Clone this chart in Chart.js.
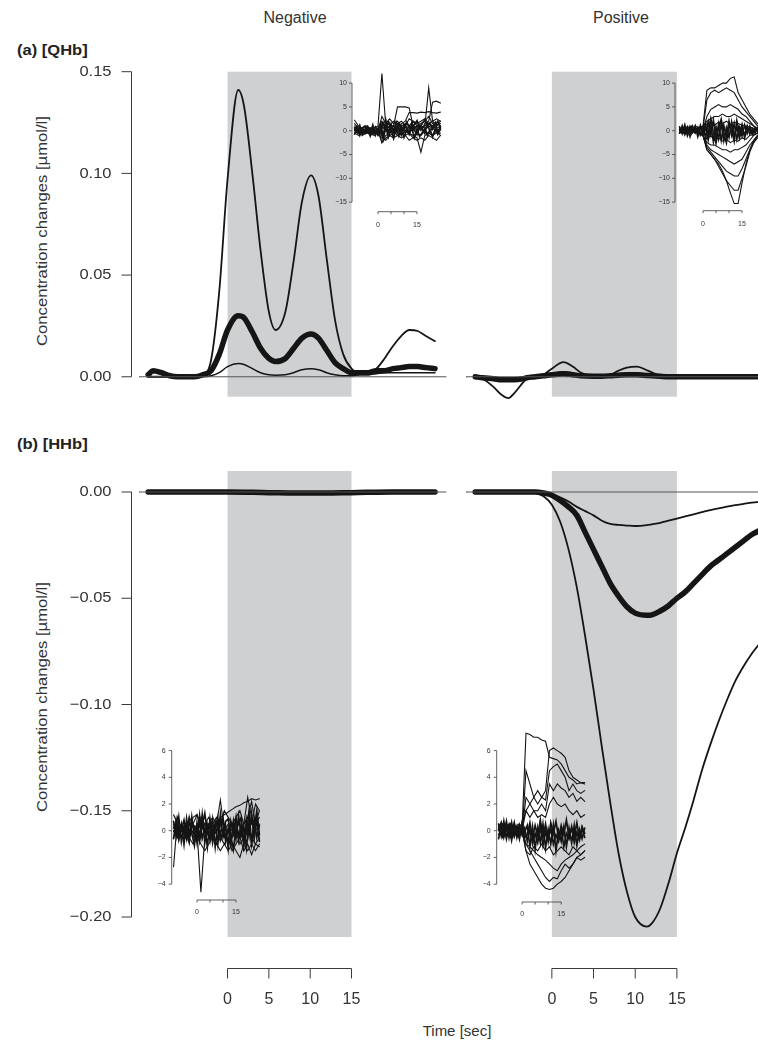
<!DOCTYPE html>
<html><head><meta charset="utf-8">
<script src="https://cdn.jsdelivr.net/npm/chart.js@4.4.0/dist/chart.umd.min.js"></script>
<style>
html,body{margin:0;padding:0;background:#fff;}
body{width:758px;height:1052px;overflow:hidden;position:relative;font-family:"Liberation Sans",Arial,Helvetica,sans-serif;color:#333;}
canvas{position:absolute;left:0;top:0;}
.t{position:absolute;white-space:nowrap;line-height:1;}
.c{transform:translate(-50%,-50%);}
.l{transform-origin:0 50%;transform:translate(0,-50%) scaleX(1.18);font-weight:bold;font-size:14px;color:#222;}
.r{transform:translate(-50%,-50%) rotate(-90deg) scaleX(1.11);font-size:15px;}
</style></head>
<body>
<div class="t c" style="left:295px;top:18px;font-size:16px;">Negative</div>
<div class="t c" style="left:621px;top:18px;font-size:16px;">Positive</div>
<div class="t l" style="left:17px;top:50px;">(a) [QHb]</div>
<div class="t l" style="left:17px;top:444px;">(b) [HHb]</div>
<div class="t r" style="left:41px;top:231px;">Concentration changes [µmol/l]</div>
<div class="t r" style="left:41px;top:697px;">Concentration changes [µmol/l]</div>
<div class="t c" style="left:457px;top:1030px;font-size:15px;">Time [sec]</div>

<canvas id="aL" width="758" height="1052"></canvas>
<canvas id="aR" width="758" height="1052"></canvas>
<canvas id="bL" width="758" height="1052"></canvas>
<canvas id="bR" width="758" height="1052"></canvas>
<canvas id="iaL" width="758" height="1052"></canvas>
<canvas id="iaR" width="758" height="1052"></canvas>
<canvas id="ibL" width="758" height="1052"></canvas>
<canvas id="ibR" width="758" height="1052"></canvas>

<script>
// ---------------- DATA ----------------
const stimulus = [0, 15];                       // shaded stimulation period [sec]
const timeTicks = [0, 5, 10, 15];
const timeTickLabels = ['0', '5', '10', '15'];
const insetTimeTickLabels = ['0', '', '', '15'];
const qhbTicks = [0, 0.05, 0.10, 0.15];
const qhbTickLabels = ['0.00', '0.05', '0.10', '0.15'];
const hhbTicks = [0, -0.05, -0.10, -0.15, -0.20];
const hhbTickLabels = ['0.00', '\u22120.05', '\u22120.10', '\u22120.15', '\u22120.20'];
const insetTopTicks = [-15, -10, -5, 0, 5, 10];
const insetTopTickLabels = ['\u221215', '\u221210', '\u22125', '0', '5', '10'];
const insetBotTicks = [-4, -2, 0, 2, 4, 6];
const insetBotTickLabels = ['\u22124', '\u22122', '0', '2', '4', '6'];

// (a) QHb, Negative
const tNegA = [-9.6,-9,-8,-7,-6,-5,-4,-3,-2,-1,0,1.3,2,3,4,5,5.8,7,8,9,10.1,11,12,13,14,15,16,17,18,19,20,21,22,23,24,25.1];
const qhbNegHi  = [0,0,0,0,0,0,0,0.001,0.008,0.042,0.097,0.141,0.133,0.100,0.062,0.032,0.023,0.032,0.057,0.086,0.099,0.089,0.058,0.028,0.011,0.004,0.002,0.002,0.004,0.009,0.015,0.020,0.023,0.0225,0.020,0.0175];
const qhbNegMid = [0.001,0.003,0.002,0.0005,0,0,0,0.001,0.003,0.011,0.023,0.030,0.029,0.022,0.014,0.009,0.0075,0.009,0.014,0.019,0.021,0.019,0.013,0.007,0.004,0.002,0.002,0.002,0.003,0.003,0.004,0.0045,0.005,0.005,0.0045,0.004];
const qhbNegLo  = [0,0,0,0,0,0,0,0,0.0005,0.002,0.005,0.0065,0.006,0.004,0.002,0.001,0.0008,0.001,0.002,0.0035,0.004,0.0035,0.002,0.001,0.0005,0.0005,0.001,0.001,0.0015,0.002,0.002,0.002,0.002,0.002,0.002,0.002];

// (a) QHb, Positive
const tPosA = [-9.2,-8.3,-7,-6,-5.2,-4.5,-3.5,-3,-2,-1,0,1.4,2.5,3.5,5,6,7,8,9,10.2,11.5,13,14,15,17,19,21,23,25];
const qhbPosHi  = [0,-0.001,-0.005,-0.009,-0.0105,-0.008,-0.003,-0.001,0,0.001,0.004,0.0072,0.005,0.002,0.0005,0.0005,0.001,0.003,0.0045,0.005,0.003,0.0005,0,0,0,0,0,0,0];
const qhbPosMid = [0,-0.0005,-0.001,-0.0015,-0.0015,-0.0015,-0.001,-0.0005,0,0.0005,0.001,0.0015,0.001,0.0005,0.0003,0.0003,0.0005,0.0008,0.001,0.001,0.0006,0.0002,0,0,0,0,0,0,0];
const qhbPosLo  = [0,0,-0.001,-0.002,-0.002,-0.0015,-0.0005,0,0,0.0005,0.0015,0.0025,0.0018,0.0008,0.0002,0.0002,0.0005,0.001,0.0015,0.0018,0.001,0.0002,0,0,0,0,0,0,0];

// (b) HHb, Negative
const tNegB = [-9.6,-5,0,5,10,15,20,25.1];
const hhbNegMid = [0,0,0,-0.0003,-0.0005,-0.0003,0,0];
const hhbNegLo  = [0,0,0,0,0,0,0,0];

// (b) HHb, Positive
const tPosB = [-9.2,-6,-3,-2,-1,0,1,2,3,4,5,6,7,8,9,10,11.4,12,13,14,15,16,17,18,19,20,21,22,23,24,25];
const hhbPosBig = [0,0,0,-0.0005,-0.002,-0.006,-0.014,-0.027,-0.045,-0.068,-0.093,-0.120,-0.146,-0.170,-0.188,-0.200,-0.2045,-0.203,-0.196,-0.184,-0.170,-0.158,-0.145,-0.131,-0.119,-0.108,-0.098,-0.089,-0.082,-0.076,-0.071];
const hhbPosMid = [0,0,0,0,-0.0005,-0.0015,-0.004,-0.007,-0.011,-0.019,-0.027,-0.035,-0.043,-0.049,-0.054,-0.057,-0.058,-0.0578,-0.056,-0.0535,-0.050,-0.047,-0.043,-0.039,-0.035,-0.032,-0.029,-0.026,-0.023,-0.020,-0.018];
const hhbPosLo  = [0,0,0,0,0,-0.001,-0.0025,-0.0045,-0.007,-0.009,-0.011,-0.0135,-0.015,-0.0155,-0.0158,-0.016,-0.0156,-0.0152,-0.0145,-0.0135,-0.0125,-0.0115,-0.0105,-0.0095,-0.0085,-0.0077,-0.0069,-0.0062,-0.0056,-0.005,-0.0046];

// Insets: individual traces (coarse grid) and dense core traces (1-s grid)
const tIns = [-9,-7.5,-6,-4.5,-3,-1.5,0,1.5,3,4.5,6,7.5,9,10.5,12,13.5,15,16.5,18,19.5,21,22.5,24];
const tInsCore = [-9,-8,-7,-6,-5,-4,-3,-2,-1,0,1,2,3,4,5,6,7,8,9,10,11,12,13,14,15,16,17,18,19,20,21,22,23,24];
const insQhbNeg = [
  [1.5,0.5,0,-0.5,0,0.5,1,12,1,0.5,1,0,0.5,1,0.5,0,1,0.5,1,1.5,1,0.5,1],
  [1,0,-0.5,0,0.5,0,-0.5,1,0,-0.5,0.5,1,0,-0.5,0.5,1,0,0.5,1,9,2,1,1.5],
  [0.5,-0.5,0,0.5,-0.5,0,0.5,2,0.5,0,1,5,5,5,4.8,1,0.5,1,0.5,1,0.5,0,0.5],
  [0,0.5,-0.5,0,0.5,-0.5,0,-1,0.5,1,0,0.5,1.5,2,3.8,3.8,3.7,3.9,3.8,4,3.8,3.7,3.9],
  [-0.5,0,0.5,-0.5,0,0.5,-1,0.5,1,0.5,-0.5,1,0.5,0,1,0.5,1,0,1.5,2,6,6.2,5.8],
  [0,-0.5,0,-0.5,0,-0.5,0.5,-2.5,-1,-0.5,0,-1,-0.5,-1,-0.5,-1,-1.5,-4.5,-1,-0.5,-1,-0.5,-0.5],
  [2.2,1,0.5,0,-0.5,0,-0.5,-1.5,-2,-1,-0.5,0,-1,0,-0.5,-1.5,-0.5,-1,0,-0.5,-1,0,-1],
  [-0.5,-1,-0.5,0,-1,-0.5,0,1.5,2,1,2,1.5,2,1,2.5,2,1.5,2,2.5,1.5,2,2.5,2],
  [0,-0.5,-1,-0.5,-0.5,-1,0,-2.5,-1.5,-1,-1.5,-1,-1.5,-1,-2,-1.5,-2,-1.5,-2,-1,-1.5,-2,-1],
  [0.5,0,0.5,1,0.5,0,0,3,1.5,2.5,1.5,2,1,1.5,1,2,1,1.5,2,3,1.5,1,2]
];
const coreQhbNeg = [
  [0.6,-0.4,1.1,-0.8,0.3,0.9,-0.5,1.2,-0.9,0.4,1.5,-1.2,2.2,-0.6,1.4,-0.3,1.8,0.2,-0.9,1.3,0.5,-0.4,1.6,0.1,-0.8,1.2,0.4,-0.6,1.5,-0.2,0.9,1.7,-0.5,1],
  [-0.7,0.5,-1,0.2,-0.6,0.3,-1.1,0.6,-0.2,-0.9,0.4,-1.8,0.7,-1.3,0.2,-1.6,0.5,-1.1,0.8,-1.4,0.1,-0.8,0.6,-1.5,0.3,-1.2,-0.4,0.5,-1,0.2,-1.3,0.4,-0.7,0.3],
  [0.2,0.9,-0.3,0.6,1,-0.2,0.5,-0.6,0.8,0.2,-0.4,1.6,0.3,2,0.6,1.1,-0.2,1.4,0.7,0.1,1.8,0.9,0.2,1.3,2.1,0.4,1.5,2.3,0.8,1.6,0.3,1.1,2,0.6]
];
const insQhbPos = [
  [0.5,-0.5,1,0,1,0.5,1,8.5,9,9,9.5,10,10,11,11.3,8,6.5,5,3.5,2.5,1.5,1,0.5],
  [-0.5,0.5,0,1,-0.5,0,0.5,6.5,8,8.5,8,8.5,9,8.5,8,6.5,5,4,3,2,1,0.5,0],
  [0,-0.5,0.5,0,0.5,-0.5,0,3,4.5,5,5.5,5,5,5.5,5,4.5,3.5,3,2,1,0.5,0,0.5],
  [0.5,0,-0.5,0.5,0,0.5,1,2,2.5,3,3,3.5,3,3,3.5,3,2.5,2,1.5,1,0,0.5,0],
  [0,0.5,0,-0.5,0,-0.5,-1,-2.5,-3,-3,-3.5,-4,-4,-4.5,-4,-4,-3.5,-3,-2,-1,-0.5,0,-0.5],
  [-0.5,0,0.5,0,-0.5,0,-1,-3,-4,-4.5,-5,-5.5,-6,-6.5,-7,-6.5,-6,-4.5,-3,-2,-1,-0.5,0],
  [0.5,0,-0.5,0,0.5,0,-1,-3.5,-4.5,-5.5,-6.5,-7.5,-8.5,-9,-9.5,-9.5,-8,-6,-4,-2.5,-1.5,-0.5,0],
  [0,-0.5,0,0.5,0,-0.5,-1,-4,-5,-6,-7.5,-9,-10.5,-11.5,-12.5,-12.5,-10,-7.5,-4.5,-2.5,-1,-0.5,0],
  [0,0.5,-0.5,0,0.5,0,-1,-4,-5,-6,-7,-8.5,-10.5,-13,-15.3,-15.3,-11,-7,-4,-2,-1,-0.5,0],
  [0.3,-0.3,0.8,-0.8,0.3,-0.6,0,-1.8,-1,-2,-1.5,-2.2,-1.8,-2.5,-2,-2.2,-1.5,-1.8,-1,-0.8,-0.5,-0.3,0],
  [-0.3,0.6,-0.2,0.7,-0.4,0.8,0.2,1.5,2,1.2,1.8,1.5,2,1.3,1.8,1.5,1.2,1,0.8,0.5,0.3,0.2,0]
];
const coreQhbPos = [
  [0.8,-0.6,1.2,-1,0.5,-0.3,1,-1.2,0.6,0.9,-1.5,1.8,-0.8,2.2,-1.6,1.4,-2,1.1,-1.3,2,-0.9,1.5,-1.8,0.7,-1.1,1.2,-0.6,0.9,-0.4,0.6,-0.3,0.5,-0.2,0.3],
  [-0.5,1,-0.8,0.4,-1.2,0.9,-0.4,0.7,-1,-0.5,1.3,-1.9,1.1,-2.3,0.8,-1.7,1.5,-2.1,0.6,-1.4,1.8,-1.2,0.9,-1.6,0.5,-0.9,1,-0.7,0.4,-0.5,0.6,-0.2,0.4,-0.1],
  [0.2,-0.3,0.6,-0.7,0.9,-0.2,0.4,-0.6,1.1,-0.8,0.3,-0.5,2.5,-0.3,-2.6,0.7,2.4,-0.6,-2.5,1.2,0.2,-2.2,2.1,-0.4,1.3,-1.5,0.5,0.2,-0.8,0.3,0.1,-0.4,0.2,0]
];
const insHhbNeg = [
  [-2.7,1,0,0.5,-0.5,0,0.5,-0.5,0,0.5,-0.5,0,0.5,-0.5,0,-0.5,0.5,-0.5,0,0.5,-0.5,0,0.5],
  [1.2,0.5,-0.5,0,0.5,-0.5,0,-4.6,-0.5,0,-0.5,0.5,-0.5,0,-1,-0.5,0,-1,-0.5,0,-0.5,-1,-0.5],
  [0,-0.5,0.5,0,-0.5,0.5,0,0.5,0,0.5,1,0.5,1,1.2,1.4,1.6,1.8,1.9,2.1,2.2,2.4,2.3,2.4],
  [0.5,0,-0.5,0.5,0,1,1.2,0.5,0,0.5,0,0.5,2.3,0,0.5,0,-0.5,0,0.5,1,2.2,0.5,1],
  [-0.5,0,0.5,-0.5,1,0.5,1.2,0,0.5,-0.5,0,-1,-0.5,-1,-0.5,-1.5,-1,-0.5,-1.5,-1,-1.8,-1,-1.2],
  [0,0.5,-0.5,0,-0.5,-1,-0.5,-1,-1.5,-1,-0.5,-1,-1.5,-1,-1.5,-1,-1.5,-2,-1,-1.5,-1,-1.5,-1],
  [0.5,-0.5,0,0.5,0,0.5,-0.5,1,0.5,1,0.5,1,0.5,1.5,1,0.5,1,1.5,0.5,1,0.5,2,1.5],
  [0,-0.5,0,0.5,-0.5,0,-0.5,0,0.5,0,-0.5,0,0.5,-0.5,0,0.5,0,-0.5,0.5,2.5,1,0.5,1.5]
];
const coreHhbNeg = [
  [0.7,-0.4,1,-0.8,0.3,-0.6,0.9,-0.2,-1.1,0.6,-0.5,1.2,-0.9,0.4,-0.7,0.8,-1.2,0.5,-0.3,1,-0.8,0.2,-1,0.7,-0.6,1.1,-0.4,0.3,-1.3,0.6,-0.9,0.8,-0.5,0.4],
  [-0.6,0.8,-0.3,0.5,-1,0.9,-0.4,0.6,0.3,-0.9,1.1,-0.6,0.2,-1.2,0.9,-0.3,0.6,-1,1.2,-0.5,0.4,-1.3,0.7,-0.2,1,-0.7,0.5,-1.1,0.8,-0.4,1.3,-0.6,0.9,-0.8],
  [0.2,0.5,-0.7,0.1,0.8,-0.3,-0.9,1,-0.5,0.2,-0.8,0.4,1.3,-0.1,0.6,-0.9,0.2,1,-0.7,-0.1,0.7,0.9,-0.4,-1.4,0.2,0.5,1,-0.8,-0.2,1.4,-1,0.1,1.5,-0.3]
];
const insHhbPos = [
  [0.5,-0.5,0.3,-0.3,0.5,0,0.2,7.3,7.2,7,7,6.8,6.7,5.5,5.4,5.3,5,4.5,4,3.8,3.5,3.6,3.5],
  [0,0.3,-0.3,0.5,-0.5,0.2,0,1.5,2,2.5,3,2.5,3,6,6.2,6,5.8,5.5,4.5,4,3.8,3.6,3.6],
  [-0.3,0.5,0,-0.5,0.3,0,-0.2,4.5,3.5,2.5,2,2.5,2.3,4.5,4.8,5,4.5,4,3,3.5,3,2.8,3],
  [0.3,0,-0.5,0.2,0,0.5,0,2.5,2,1.5,1.5,2,1.5,3.5,3,3.5,3.2,3,2.5,2.8,2.2,2.5,2.2],
  [0,-0.3,0.5,0,-0.3,0.3,0.5,1.5,1,1.5,1,1.2,1,2,2.5,2,1.8,2,1.5,1.2,1.5,1,1.2],
  [0,0.3,-0.3,0,0.5,-0.2,0,-1.5,-2.5,-3,-3.5,-4,-4.3,-4.4,-4.3,-4,-3.8,-3.5,-3,-2.5,-2,-1.8,-1.5],
  [-0.3,0,0.3,-0.5,0,0.3,-0.3,-1,-1.5,-2,-2.5,-3,-3.5,-3.8,-3.5,-3.6,-3,-2.5,-2.8,-2.5,-2,-2.2,-2],
  [0.5,0,-0.3,0.3,-0.3,0,0.3,-1,-1.2,-1.5,-1.8,-2,-2.2,-2.5,-2.8,-3,-2.5,-2.2,-2,-1.8,-1.5,-1.2,-1],
  [0.3,-0.3,0,0.5,0,-0.5,0,-1.5,-1.8,-1.2,-1.5,-1,-1.5,-1.2,-1.8,-1.5,-1.2,-1.5,-1.8,-1.2,-1.5,-1.8,-1.5]
];
const coreHhbPos = [
  [0.5,-0.4,0.7,-0.6,0.3,-0.2,0.6,-0.5,0.4,-0.3,0.2,-0.8,0.1,-1,-0.2,-0.9,0.3,-1.1,-0.1,-0.7,0.2,-1,-0.3,-0.8,0.1,-1.2,-0.2,-0.6,0.3,-0.9,-0.1,-0.7,0.2,-0.5],
  [-0.6,0.4,-0.2,0.7,-0.5,0.6,-0.4,0.3,-0.6,0.5,-0.1,0.4,-1.2,0.3,-1.4,0.2,-0.9,0.5,-1.3,0.1,-1,0.4,-1.5,0,-0.8,0.3,-1.2,0.2,-0.9,0.4,-1.1,0.1,-0.6,0.2],
  [0.1,0.6,-0.5,0.2,0.5,-0.7,0.3,0.1,-0.4,0.6,-0.5,-0.3,0.6,-0.6,0.4,-0.4,0.8,-0.5,0.5,-0.8,0.6,-0.2,0.7,-0.6,0.4,-0.3,0.8,-0.5,0.2,-0.4,0.6,-0.6,0.3,-0.2]
];

// ---------------- RENDERING ----------------
const W = 758, H = 1052;
const INK = '#151515', AXIS = '#3a3a3a', GRAY = '#ced0d2';

function line(t, v, w, smooth) {
  return {
    data: t.map((x, i) => ({ x: x, y: v[i] })),
    borderColor: INK, borderWidth: w, pointRadius: 0, fill: false,
    cubicInterpolationMode: smooth ? 'monotone' : 'default', tension: 0,
    clip: false, borderCapStyle: 'round', borderJoinStyle: 'round'
  };
}
function zeroLine(xr) {
  const d = line(xr, [0, 0], 1, false);
  d.borderColor = '#555';
  return d;
}
function bandPlugin(range) {
  return {
    id: 'band',
    beforeDatasetsDraw(chart) {
      const a = chart.chartArea, xs = chart.scales.x, c = chart.ctx;
      const x0 = xs.getPixelForValue(range[0]), x1 = xs.getPixelForValue(range[1]);
      c.save(); c.fillStyle = GRAY; c.fillRect(x0, a.top, x1 - x0, a.bottom - a.top); c.restore();
    }
  };
}
function axesPlugin(o) {
  return {
    id: 'rAxes',
    afterDraw(chart) {
      const c = chart.ctx;
      c.save();
      c.strokeStyle = AXIS; c.fillStyle = '#333'; c.lineWidth = o.lw || 1;
      if (o.y) {
        const a = o.y, s = chart.scales.y;
        const ps = a.ticks.map(v => s.getPixelForValue(v));
        c.beginPath();
        c.moveTo(a.at, Math.min(...ps)); c.lineTo(a.at, Math.max(...ps));
        ps.forEach(p => { c.moveTo(a.at, p); c.lineTo(a.at - a.len, p); });
        c.stroke();
        c.font = a.font; c.textAlign = 'right'; c.textBaseline = 'middle';
        a.labels.forEach((l, i) => { if (!l) return; c.save(); c.translate(a.at - a.len - a.pad, ps[i]); c.scale(a.sx || 1, 1); c.fillText(l, 0, 0); c.restore(); });
      }
      if (o.x) {
        const a = o.x, s = chart.scales.x;
        const ps = a.ticks.map(v => s.getPixelForValue(v));
        c.beginPath();
        c.moveTo(Math.min(...ps), a.at); c.lineTo(Math.max(...ps), a.at);
        ps.forEach(p => { c.moveTo(p, a.at); c.lineTo(p, a.at + a.len); });
        c.stroke();
        c.font = a.font; c.textAlign = 'center'; c.textBaseline = 'middle';
        a.labels.forEach((l, i) => { if (!l) return; c.save(); c.translate(ps[i], a.at + a.off); c.scale(a.sx || 1, 1); c.fillText(l, 0, 0); c.restore(); });
      }
      c.restore();
    }
  };
}
function mk(id, box, xr, yr, datasets, plugins) {
  return new Chart(document.getElementById(id), {
    type: 'line',
    data: { datasets: datasets },
    options: {
      responsive: false, animation: false, devicePixelRatio: 1, events: [],
      layout: { padding: { left: box[0], top: box[1], right: W - box[2], bottom: H - box[3] } },
      scales: {
        x: { type: 'linear', display: false, min: xr[0], max: xr[1] },
        y: { type: 'linear', display: false, min: yr[0], max: yr[1] }
      },
      plugins: { legend: { display: false }, tooltip: { enabled: false } }
    },
    plugins: plugins
  });
}

// panel geometry
const xrLeft = [-10.71, 26.43], xrRight = [-10.3, 24.73];
const yrA = [-0.0098, 0.15], yrB = [-0.2094, 0.00988];
const boxAL = [139, 71.7, 446, 396.7], boxAR = [466, 71.7, 758, 396.7];
const boxBL = [139, 471, 446, 937], boxBR = [466, 471, 758, 937];
const yFont = '15px "Liberation Sans", Arial, sans-serif';
const xFont = '16px "Liberation Sans", Arial, sans-serif';
const iFont = '7px "Liberation Sans", Arial, sans-serif';

mk('aL', boxAL, xrLeft, yrA, [
  zeroLine(xrLeft),
  line(tNegA, qhbNegLo, 1.5, true),
  line(tNegA, qhbNegHi, 1.8, true),
  line(tNegA, qhbNegMid, 5.5, true)
], [bandPlugin(stimulus), axesPlugin({ y: { at: 131.5, ticks: qhbTicks, labels: qhbTickLabels, len: 10, pad: 10, font: yFont, sx: 1.1 } })]);

mk('aR', boxAR, xrRight, yrA, [
  zeroLine(xrRight),
  line(tPosA, qhbPosLo, 1.5, true),
  line(tPosA, qhbPosHi, 1.8, true),
  line(tPosA, qhbPosMid, 5.5, true)
], [bandPlugin(stimulus)]);

mk('bL', boxBL, xrLeft, yrB, [
  zeroLine(xrLeft),
  line(tNegB, hhbNegLo, 1.5, true),
  line(tNegB, hhbNegMid, 5.5, true)
], [bandPlugin(stimulus), axesPlugin({
  y: { at: 131.5, ticks: hhbTicks, labels: hhbTickLabels, len: 10, pad: 10, font: yFont, sx: 1.1 },
  x: { at: 968.5, ticks: timeTicks, labels: timeTickLabels, len: 10, off: 31, font: xFont, sx: 1 }
})]);

mk('bR', boxBR, xrRight, yrB, [
  zeroLine(xrRight),
  line(tPosB, hhbPosLo, 1.8, true),
  line(tPosB, hhbPosBig, 1.8, true),
  line(tPosB, hhbPosMid, 5.5, true)
], [bandPlugin(stimulus), axesPlugin({
  x: { at: 968.5, ticks: timeTicks, labels: timeTickLabels, len: 10, off: 31, font: xFont, sx: 1 }
})]);

// insets
function traces(list, core) {
  const a = list.map(v => { const d = line(tIns, v, 1.1, false); d.borderJoinStyle = 'miter'; return d; });
  const b = core.map(v => { const d = line(tInsCore, v, 1.7, false); d.borderJoinStyle = 'miter'; return d; });
  return a.concat(b);
}
const yrInsTop = [-16, 12.5], yrInsBot = [-5, 7.7];

mk('iaL', [352, 71.2, 446, 206.9], [-10, 26.15], yrInsTop, traces(insQhbNeg, coreQhbNeg), [axesPlugin({
  lw: 0.8,
  y: { at: 352, ticks: insetTopTicks, labels: insetTopTickLabels, len: 3, pad: 2, font: iFont, sx: 1 },
  x: { at: 211.7, ticks: timeTicks, labels: insetTimeTickLabels, len: 2.5, off: 13, font: iFont, sx: 1 }
})]);
mk('iaR', [675, 71.2, 758, 206.9], [-10.77, 21.15], yrInsTop, traces(insQhbPos, coreQhbPos), [axesPlugin({
  lw: 0.8,
  y: { at: 675, ticks: insetTopTicks, labels: insetTopTickLabels, len: 3, pad: 2, font: iFont, sx: 1 },
  x: { at: 210.7, ticks: timeTicks, labels: insetTimeTickLabels, len: 2.5, off: 13, font: iFont, sx: 1 }
})]);
mk('ibL', [171.7, 727.9, 264, 897.5], [-9.73, 25.77], yrInsBot, traces(insHhbNeg, coreHhbNeg), [axesPlugin({
  lw: 0.8,
  y: { at: 171.7, ticks: insetBotTicks, labels: insetBotTickLabels, len: 3, pad: 3, font: iFont, sx: 1 },
  x: { at: 900, ticks: timeTicks, labels: insetTimeTickLabels, len: 2.5, off: 12, font: iFont, sx: 1 }
})]);
mk('ibR', [496.7, 727.9, 590, 897.5], [-9.73, 26.04], yrInsBot, traces(insHhbPos, coreHhbPos), [axesPlugin({
  lw: 0.8,
  y: { at: 496.7, ticks: insetBotTicks, labels: insetBotTickLabels, len: 3, pad: 3, font: iFont, sx: 1 },
  x: { at: 902, ticks: timeTicks, labels: insetTimeTickLabels, len: 2.5, off: 12, font: iFont, sx: 1 }
})]);
</script>
</body></html>
